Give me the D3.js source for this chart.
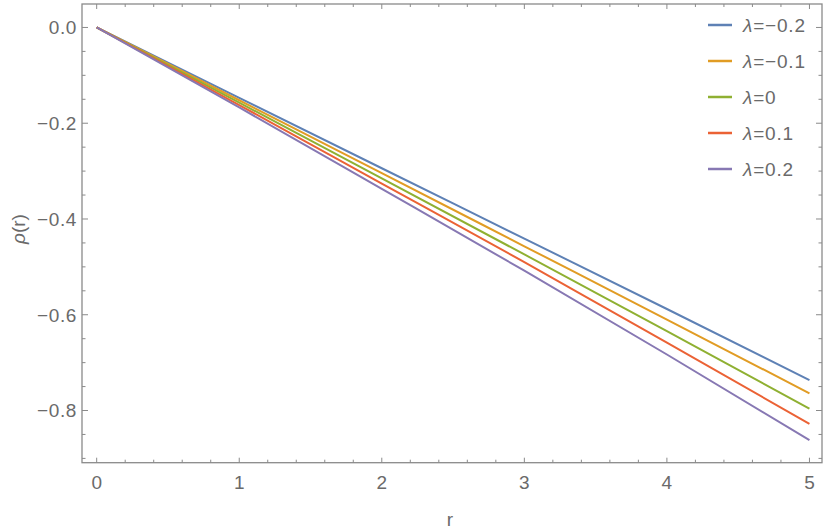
<!DOCTYPE html>
<html>
<head>
<meta charset="utf-8">
<script src="https://cdn.jsdelivr.net/npm/d3@7"></script>
<style>
  body { margin: 0; background: #fff; }
  text { font-family: "Liberation Sans", Arial, sans-serif; fill: #6a6a6a; }
</style>
</head>
<body>
<div id="chart"></div>
<script>
// values
const rValues = [0, 1, 2, 3, 4, 5];
const lambdas = ["-0.2", "-0.1", "0", "0.1", "0.2"];
const rhoMinus02 = [0, -0.147, -0.294, -0.441, -0.588, -0.7365];
const rhoMinus01 = [0, -0.152, -0.304, -0.457, -0.610, -0.764];
const rhoZero    = [0, -0.157, -0.315, -0.474, -0.634, -0.796];
const rhoPlus01  = [0, -0.162, -0.326, -0.490, -0.658, -0.828];
const rhoPlus02  = [0, -0.167, -0.337, -0.508, -0.683, -0.862];
const colors = ["#5e81b5", "#e19c24", "#8fb032", "#eb6235", "#8778b3"];
const xTicks = [0, 1, 2, 3, 4, 5];
const yTicks = [0, -0.2, -0.4, -0.6, -0.8];

const series = [rhoMinus02, rhoMinus01, rhoZero, rhoPlus01, rhoPlus02];

const width = 830, height = 530;
const frameL = 82, frameR = 822, frameT = 4, frameB = 462.7;

const svg = d3.select("#chart").append("svg")
    .attr("width", width)
    .attr("height", height);

const x = d3.scaleLinear().domain([-0.103, 5.088]).range([frameL, frameR]);
const y = d3.scaleLinear().domain([0.049, -0.909]).range([frameT, frameB]);

const frameColor = "#8a8a8a";

// minor ticks
const xMinor = d3.range(0, 5.001, 0.2).filter(v => Math.abs(v - Math.round(v)) > 1e-6);
const yMinor = d3.range(0, -0.901, -0.05).filter(v => Math.abs(v * 5 - Math.round(v * 5)) > 1e-6);

const ticks = svg.append("g").attr("stroke", frameColor).attr("stroke-width", 1);

xTicks.forEach(v => {
    ticks.append("line").attr("x1", x(v)).attr("x2", x(v)).attr("y1", frameB).attr("y2", frameB - 5);
    ticks.append("line").attr("x1", x(v)).attr("x2", x(v)).attr("y1", frameT).attr("y2", frameT + 5);
});
xMinor.forEach(v => {
    ticks.append("line").attr("x1", x(v)).attr("x2", x(v)).attr("y1", frameB).attr("y2", frameB - 3);
    ticks.append("line").attr("x1", x(v)).attr("x2", x(v)).attr("y1", frameT).attr("y2", frameT + 3);
});
yTicks.forEach(v => {
    ticks.append("line").attr("x1", frameL).attr("x2", frameL + 6).attr("y1", y(v)).attr("y2", y(v));
    ticks.append("line").attr("x1", frameR).attr("x2", frameR - 6).attr("y1", y(v)).attr("y2", y(v));
});
yMinor.forEach(v => {
    ticks.append("line").attr("x1", frameL).attr("x2", frameL + 3.5).attr("y1", y(v)).attr("y2", y(v));
    ticks.append("line").attr("x1", frameR).attr("x2", frameR - 3.5).attr("y1", y(v)).attr("y2", y(v));
});

// frame
svg.append("rect")
    .attr("x", frameL).attr("y", frameT)
    .attr("width", frameR - frameL).attr("height", frameB - frameT)
    .attr("fill", "none")
    .attr("stroke", frameColor)
    .attr("stroke-width", 1.3);

// tick labels
const fmtY = v => (v === 0 ? "0.0" : d3.format(".1f")(v));
svg.selectAll(".ylab")
    .data(yTicks)
    .enter()
    .append("text")
    .attr("x", frameL - 5)
    .attr("y", d => y(d))
    .attr("dy", "0.36em")
    .attr("text-anchor", "end")
    .attr("font-size", 19)
    .attr("letter-spacing", 0.6)
    .text(fmtY);

svg.selectAll(".xlab")
    .data(xTicks)
    .enter()
    .append("text")
    .attr("x", d => x(d))
    .attr("y", 489)
    .attr("text-anchor", "middle")
    .attr("font-size", 19)
    .text(d => d);

// axis titles
svg.append("text")
    .attr("x", 450)
    .attr("y", 526)
    .attr("text-anchor", "middle")
    .attr("font-size", 19)
    .text("r");

const yTitle = svg.append("text")
    .attr("transform", "translate(25,229) rotate(-90)")
    .attr("text-anchor", "middle")
    .attr("font-size", 19);
yTitle.append("tspan").attr("font-style", "italic").text("\u03c1");
yTitle.append("tspan").text("(r)");

// curves
const line = d3.line()
    .x((d, i) => x(rValues[i]))
    .y(d => y(d))
    .curve(d3.curveMonotoneX);

svg.selectAll(".curve")
    .data(series)
    .enter()
    .append("path")
    .attr("d", line)
    .attr("fill", "none")
    .attr("stroke", (d, i) => colors[i])
    .attr("stroke-width", 2);

// legend
const legend = svg.selectAll(".legend")
    .data(lambdas)
    .enter()
    .append("g")
    .attr("transform", (d, i) => "translate(708," + (25 + i * 36) + ")");

legend.append("line")
    .attr("x1", 0).attr("x2", 24)
    .attr("stroke", (d, i) => colors[i])
    .attr("stroke-width", 2.5);

const lt = legend.append("text")
    .attr("x", 35)
    .attr("dy", "0.36em")
    .attr("font-size", 19)
    .attr("letter-spacing", 0.8);
lt.append("tspan").attr("font-style", "italic").text("\u03bb");
lt.append("tspan").text(d => "=" + d.replace("-", "\u2212"));
</script>
</body>
</html>
